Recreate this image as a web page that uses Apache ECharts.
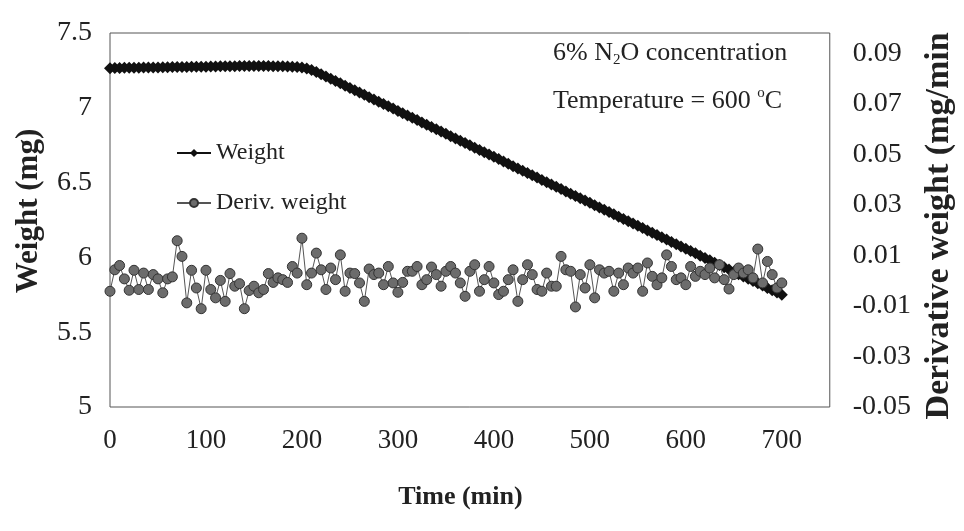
<!DOCTYPE html>
<html>
<head>
<meta charset="utf-8">
<script src="https://cdn.jsdelivr.net/npm/echarts@6/dist/echarts.min.js"></script>
<style>
  html, body { margin: 0; padding: 0; background: #fff; }
  #chart { width: 964px; height: 531px; }
</style>
</head>
<body>
<div id="chart"></div>
<script>
// Sampling times of the TGA run (min)
const times = [
  0, 5, 10, 15, 20, 25, 30, 35, 40, 45, 50, 55, 60, 65, 70, 75, 80, 85, 90, 95,
  100, 105, 110, 115, 120, 125, 130, 135, 140, 145, 150, 155, 160, 165, 170, 175, 180, 185, 190, 195,
  200, 205, 210, 215, 220, 225, 230, 235, 240, 245, 250, 255, 260, 265, 270, 275, 280, 285, 290, 295,
  300, 305, 310, 315, 320, 325, 330, 335, 340, 345, 350, 355, 360, 365, 370, 375, 380, 385, 390, 395,
  400, 405, 410, 415, 420, 425, 430, 435, 440, 445, 450, 455, 460, 465, 470, 475, 480, 485, 490, 495,
  500, 505, 510, 515, 520, 525, 530, 535, 540, 545, 550, 555, 560, 565, 570, 575, 580, 585, 590, 595,
  600, 605, 610, 615, 620, 625, 630, 635, 640, 645, 650, 655, 660, 665, 670, 675, 680, 685, 690, 695,
  700
];

// Sample weight (mg)
const weight = [
  7.265, 7.266, 7.266, 7.267, 7.267, 7.268, 7.268, 7.269, 7.269, 7.270,
  7.270, 7.271, 7.271, 7.272, 7.272, 7.273, 7.273, 7.274, 7.274, 7.275,
  7.275, 7.276, 7.276, 7.277, 7.277, 7.278, 7.278, 7.279, 7.279, 7.279,
  7.280, 7.280, 7.279, 7.279, 7.278, 7.278, 7.277, 7.276, 7.275, 7.273,
  7.270, 7.262, 7.252, 7.240, 7.225,
  7.210, 7.194, 7.179, 7.164, 7.148, 7.133, 7.117, 7.102, 7.087, 7.071,
  7.056, 7.041, 7.025, 7.010, 6.995, 6.979, 6.964, 6.948, 6.933, 6.918,
  6.902, 6.887, 6.872, 6.856, 6.841, 6.826, 6.810, 6.795, 6.779, 6.764,
  6.749, 6.733, 6.718, 6.703, 6.687, 6.672, 6.657, 6.641, 6.626, 6.610,
  6.595, 6.580, 6.564, 6.549, 6.534, 6.518, 6.503, 6.488, 6.472, 6.457,
  6.441, 6.426, 6.411, 6.395, 6.380, 6.365, 6.349, 6.334, 6.319, 6.303,
  6.288, 6.272, 6.257, 6.242, 6.226, 6.211, 6.196, 6.180, 6.165, 6.150,
  6.134, 6.119, 6.103, 6.088, 6.073, 6.057, 6.042, 6.027, 6.011, 5.996,
  5.981, 5.965, 5.950, 5.934, 5.919, 5.904, 5.888, 5.873, 5.858, 5.842,
  5.827, 5.812, 5.796, 5.781, 5.765, 5.750
];

// Derivative of weight (mg/min)
const derivWeight = [
  -0.0042, 0.0043, 0.0060, 0.0007, -0.0038, 0.0041, -0.0035, 0.0030, -0.0035, 0.0024,
  0.0007, -0.0048, 0.0007, 0.0015, 0.0158, 0.0096, -0.0088, 0.0041, -0.0029, -0.0111,
  0.0041, -0.0035, -0.0068, 0.0001, -0.0082, 0.0028, -0.0022, -0.0012, -0.0111, -0.0039,
  -0.0022, -0.0048, -0.0035, 0.0028, -0.0007, 0.0011, 0.0004, -0.0007, 0.0056, 0.0030,
  0.0168, -0.0016, 0.0030, 0.0109, 0.0043, -0.0035, 0.0050, 0.0004, 0.0102, -0.0042,
  0.0030, 0.0028, -0.0009, -0.0082, 0.0046, 0.0024, 0.0030, -0.0016, 0.0056, -0.0009,
  -0.0046, -0.0007, 0.0037, 0.0037, 0.0056, -0.0016, 0.0004, 0.0054, 0.0024, -0.0022,
  0.0037, 0.0056, 0.0030, -0.0009, -0.0062, 0.0037, 0.0063, -0.0042, 0.0004, 0.0056,
  -0.0009, -0.0055, -0.0042, 0.0004, 0.0043, -0.0082, 0.0004, 0.0063, 0.0024, -0.0035,
  -0.0042, 0.0030, -0.0022, -0.0022, 0.0096, 0.0043, 0.0037, -0.0104, 0.0024, -0.0029,
  0.0063, -0.0068, 0.0043, 0.0030, 0.0037, -0.0042, 0.0030, -0.0016, 0.0050, 0.0030,
  0.0050, -0.0042, 0.0070, 0.0017, -0.0016, 0.0011, 0.0102, 0.0056, 0.0004, 0.0011,
  -0.0016, 0.0056, 0.0017, 0.0037, 0.0024, 0.0050, 0.0011, 0.0063, 0.0004, -0.0033,
  0.0024, 0.0050, 0.0030, 0.0043, 0.0011, 0.0125, -0.0009, 0.0076, 0.0024, -0.0029,
  -0.0009
];

// Labels on the right-hand axis
const derivTicks = [-0.05, -0.03, -0.01, 0.01, 0.03, 0.05, 0.07, 0.09];

const FONT = 'Liberation Serif';
const INK = '#222';

const chart = echarts.init(document.getElementById('chart'));

chart.setOption({
  animation: false,
  backgroundColor: '#fff',
  grid: {
    left: 110, right: 125, top: 33, bottom: 124,
    show: true, borderColor: '#555', borderWidth: 1
  },
  legend: {
    data: ['Weight', 'Deriv. weight'],
    orient: 'vertical',
    left: 171, top: 136,
    itemWidth: 34, itemHeight: 10, itemGap: 26,
    textStyle: { fontFamily: FONT, fontSize: 24, color: INK, lineHeight: 24 }
  },
  xAxis: {
    type: 'value',
    min: 0, max: 750, interval: 100,
    axisLine: { show: false },
    axisTick: { show: false },
    splitLine: { show: false },
    axisLabel: { fontFamily: FONT, fontSize: 27, color: INK, margin: 20, showMaxLabel: false },
    name: 'Time (min)',
    nameLocation: 'middle',
    nameGap: 77,
    nameTextStyle: { fontFamily: FONT, fontWeight: 'bold', fontSize: 26, color: INK, padding: [0, 19, 0, 0] }
  },
  yAxis: [
    {
      type: 'value',
      position: 'left',
      min: 5, max: 7.5, interval: 0.5,
      axisLine: { show: false },
      axisTick: { show: false },
      splitLine: { show: false },
      axisLabel: { fontFamily: FONT, fontSize: 28, color: INK, margin: 18 },
      name: 'Weight (mg)',
      nameLocation: 'middle',
      nameRotate: 90,
      nameGap: 66,
      nameTextStyle: { fontFamily: FONT, fontWeight: 'bold', fontSize: 31, color: INK, padding: [0, 0, 0, 18] }
    },
    {
      type: 'value',
      position: 'right',
      min: -0.05, max: 0.098,
      axisLine: { show: false },
      axisTick: { show: false },
      splitLine: { show: false },
      axisLabel: { fontFamily: FONT, fontSize: 28, color: INK, margin: 23, customValues: derivTicks },
      name: 'Derivative weight (mg/min',
      nameLocation: 'middle',
      nameRotate: 90,
      nameGap: 78,
      nameTextStyle: { fontFamily: FONT, fontWeight: 'bold', fontSize: 34, color: INK, padding: [0, 12, 0, 0] }
    }
  ],
  graphic: [
    {
      type: 'text', left: 553, top: 40,
      style: {
        text: '{n|6% N}{sub|2}{n|O concentration}',
        fill: INK,
        rich: {
          n: { fontFamily: FONT, fontSize: 26, lineHeight: 30, fill: INK },
          sub: { fontFamily: FONT, fontSize: 15, lineHeight: 30, verticalAlign: 'bottom', fill: INK }
        }
      }
    },
    {
      type: 'text', left: 553, top: 86,
      style: {
        text: '{n|Temperature = 600 }{sup|o}{n|C}',
        fill: INK,
        rich: {
          n: { fontFamily: FONT, fontSize: 26, lineHeight: 30, fill: INK },
          sup: { fontFamily: FONT, fontSize: 15, lineHeight: 30, verticalAlign: 'top', fill: INK }
        }
      }
    }
  ],
  series: [
    {
      name: 'Weight',
      type: 'line',
      yAxisIndex: 0,
      data: times.map((t, i) => [t, weight[i]]),
      symbol: 'diamond',
      symbolSize: 12,
      showAllSymbol: true,
      itemStyle: { color: '#111' },
      lineStyle: { color: '#111', width: 3 },
      z: 2
    },
    {
      name: 'Deriv. weight',
      type: 'line',
      yAxisIndex: 1,
      data: times.map((t, i) => [t, derivWeight[i]]),
      symbol: 'circle',
      symbolSize: 10,
      showAllSymbol: true,
      itemStyle: { color: '#6c6c6c', borderColor: '#333', borderWidth: 1 },
      lineStyle: { color: '#555', width: 1 },
      z: 3
    }
  ]
});
</script>
</body>
</html>
